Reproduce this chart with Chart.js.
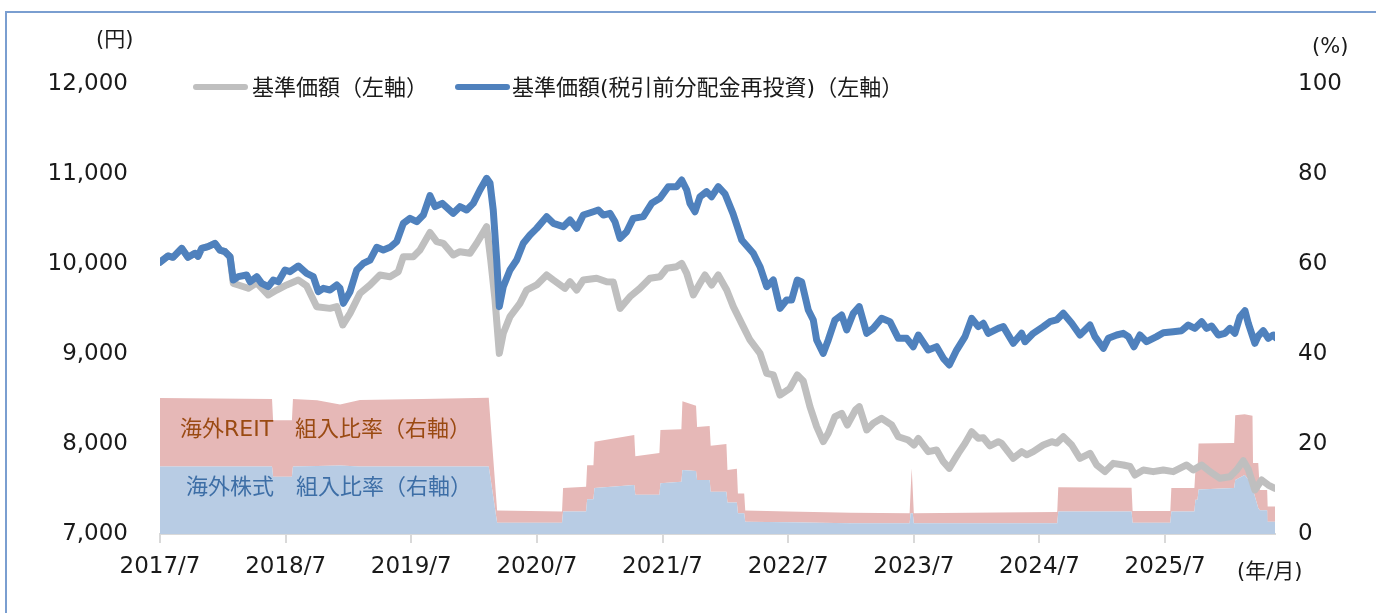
<!DOCTYPE html>
<html>
<head>
<meta charset="utf-8">
<script src="https://cdn.jsdelivr.net/npm/chart.js@4.4.1/dist/chart.umd.min.js"></script>
<style>
  html, body { margin:0; padding:0; background:#fff; }
  body { width:1376px; height:613px; overflow:hidden; position:relative;
         font-family:"DejaVu Sans","Noto Sans CJK JP",sans-serif; }
  #frame { position:absolute; left:5px; top:11px; width:1420px; height:700px;
           border-left:2px solid #7a9ed0; border-top:2px solid #7a9ed0; }
  canvas { position:absolute; left:0; top:0; }
  .t { position:absolute; white-space:nowrap; line-height:1; transform:translateY(-50%); color:#1a1a1a; }
  .sw { position:absolute; height:6px; border-radius:3px; transform:translateY(-50%); }
</style>
</head>
<body>
<div id="frame"></div>
<canvas id="c" width="1376" height="613"></canvas>

<div class="t" style="left:96px; top:39px; font-size:21px;">(円)</div>
<div class="t" style="left:1312px; top:46px; font-size:21px;">(%)</div>
<div class="t" style="left:1237px; top:571px; font-size:21px;">(年/月)</div>

<div class="sw" style="left:193px; top:87px; width:55px; background:#bfbfbf;"></div>
<div class="t" style="left:252px; top:88px; font-size:22px;">基準価額（左軸）</div>
<div class="sw" style="left:455px; top:87px; width:55px; background:#4f81bd;"></div>
<div class="t" style="left:512px; top:88px; font-size:22px;">基準価額(税引前分配金再投資)（左軸）</div>

<div class="t" style="left:180px; top:429px; font-size:22px; color:#9a4a12;">海外REIT　組入比率（右軸）</div>
<div class="t" style="left:186px; top:487px; font-size:22px; color:#3d6ea6;">海外株式　組入比率（右軸）</div>

<script>
// x positions are months since 2017/7
const tickMonths = [0, 12, 24, 36, 48, 60, 72, 84, 96];
const tickLabels = ['2017/7','2018/7','2019/7','2020/7','2021/7','2022/7','2023/7','2024/7','2025/7'];

// 基準価額(税引前分配金再投資)（円）
const reinvT = [0,0.76,1.24,2.07,2.67,3.34,3.63,3.98,4.58,5.25,5.73,6.21,6.69,7.00,7.48,8.28,8.60,9.24,9.71,10.34,10.82,11.30,11.94,12.42,13.21,14.01,14.64,15.12,15.60,16.24,16.88,17.19,17.51,18.15,18.79,19.42,20.06,20.70,21.33,21.97,22.61,23.24,23.88,24.52,25.15,25.79,26.27,26.96,28.01,28.65,29.29,29.92,30.56,31.20,31.52,31.83,32.16,32.41,32.79,33.43,34.07,34.70,35.34,35.98,36.93,37.57,38.52,39.16,39.80,40.43,41.39,41.86,42.34,42.98,43.46,43.94,44.57,45.20,46.16,46.96,47.75,48.55,49.35,49.83,50.31,50.62,51.10,51.58,52.21,52.69,53.32,53.96,54.73,55.56,56.67,57.31,57.95,58.58,59.22,59.85,60.33,60.87,61.29,61.92,62.40,62.72,63.35,63.83,64.47,65.11,65.59,66.22,66.79,67.50,68.13,68.93,69.72,70.52,71.32,71.95,72.43,73.38,74.18,74.82,75.39,76.09,76.89,77.53,78.16,78.64,79.11,80.07,80.55,81.50,82.30,82.62,83.41,84.37,85.00,85.64,86.28,87.08,87.87,88.83,89.30,90.10,90.58,91.38,92.01,92.49,93.03,93.60,94.24,95.19,95.83,96.78,97.58,98.22,98.85,99.49,99.97,100.45,101.08,101.72,102.20,102.67,103.15,103.63,103.95,104.58,104.90,105.38,105.86,106.34,106.59];
const reinv = [10020,10089,10074,10174,10074,10119,10085,10174,10193,10230,10155,10137,10081,9822,9859,9878,9803,9859,9785,9748,9822,9803,9933,9915,9978,9896,9859,9692,9730,9711,9767,9730,9563,9692,9933,10007,10044,10185,10155,10185,10248,10452,10507,10470,10544,10760,10637,10674,10563,10637,10600,10674,10822,10952,10900,10600,10044,9526,9748,9933,10044,10230,10322,10396,10526,10452,10415,10489,10396,10544,10581,10600,10544,10563,10470,10285,10359,10507,10526,10674,10730,10859,10859,10933,10822,10674,10581,10748,10804,10748,10859,10780,10560,10267,10119,9970,9748,9822,9507,9600,9600,9822,9800,9489,9378,9156,9007,9156,9378,9433,9267,9452,9526,9230,9285,9396,9359,9174,9174,9081,9211,9044,9081,8952,8878,9044,9193,9396,9304,9341,9230,9285,9304,9119,9230,9137,9230,9304,9359,9378,9452,9341,9211,9322,9193,9063,9174,9211,9230,9193,9081,9211,9137,9193,9237,9248,9259,9322,9285,9359,9285,9311,9211,9230,9285,9230,9415,9481,9341,9119,9200,9259,9174,9211,9180];

// 基準価額（円）
const navT = [0,0.76,1.24,2.07,2.67,3.34,3.63,3.98,4.58,5.25,5.73,6.21,6.69,7.00,7.48,8.43,9.24,10.34,11.15,12.10,13.21,14.01,14.97,16.24,16.88,17.45,18.15,19.10,20.06,21.01,21.97,22.76,23.24,24.19,24.83,25.79,26.43,27.06,28.01,28.65,29.61,30.25,31.20,31.59,32.00,32.41,32.79,33.43,34.38,35.02,35.98,36.93,37.57,38.68,39.16,39.80,40.43,41.71,42.66,43.30,43.94,44.89,45.85,46.80,47.75,48.40,49.35,49.83,50.31,50.94,51.58,52.05,52.69,53.32,54.13,54.76,55.71,56.35,57.31,57.95,58.58,59.22,60.17,60.87,61.44,62.08,62.72,63.35,63.83,64.47,65.11,65.65,66.43,66.79,67.50,68.13,68.93,69.89,70.52,71.47,72.02,72.43,73.38,74.18,74.82,75.39,76.25,76.89,77.53,78.16,78.64,79.27,80.07,80.39,81.50,82.30,82.78,83.41,84.37,85.17,85.64,86.28,87.08,87.87,88.83,89.47,90.26,91.05,92.01,92.65,93.12,93.92,94.87,95.83,96.78,98.06,98.69,99.49,100.29,101.24,102.20,102.84,103.47,103.95,104.58,105.22,105.86,106.49];
const nav = [10020,10089,10074,10174,10074,10119,10085,10174,10193,10230,10155,10137,10081,9785,9767,9730,9790,9656,9711,9767,9822,9756,9526,9507,9526,9322,9452,9674,9767,9878,9859,9915,10081,10081,10155,10350,10248,10230,10100,10137,10119,10230,10415,10044,9600,9007,9230,9415,9563,9711,9767,9878,9822,9730,9803,9711,9822,9841,9803,9800,9507,9637,9730,9841,9859,9952,9970,10007,9896,9656,9785,9878,9767,9878,9711,9526,9304,9156,9007,8785,8767,8544,8619,8767,8700,8415,8193,8026,8119,8304,8341,8211,8378,8415,8156,8230,8285,8211,8081,8044,7989,8063,7915,7933,7804,7730,7896,8007,8137,8063,8070,7980,8026,8007,7841,7915,7880,7915,7989,8026,8010,8081,7989,7841,7896,7767,7693,7785,7767,7750,7656,7711,7693,7711,7693,7767,7711,7767,7693,7619,7637,7711,7815,7720,7489,7600,7544,7507];

// 組入比率（%）
const allocT = [0,10.7,10.8,12.6,12.7,15.0,17.2,19.1,25,31.4,32.2,38.4,38.5,40.7,40.8,41.4,41.5,45.3,45.4,47.7,47.8,49.8,49.9,51.2,51.3,52.5,52.6,54.1,54.2,55.1,55.2,55.8,55.9,60,66,71.6,71.7,71.8,71.9,72.0,80,85.7,85.8,92.8,92.9,96.5,96.6,98.8,98.9,99.1,99.2,102.6,102.7,103.6,104.35,104.4,104.9,105.05,105.75,105.8,106.5];
const stockPct = [15.0,15.0,12.7,12.7,15.0,15.1,15.2,15.0,15.0,15.0,2.5,2.5,5.0,5.0,7.7,7.7,10.2,10.9,8.7,8.7,11.3,11.6,14.2,14.0,12.0,12.0,9.4,9.4,7.0,7.0,4.6,4.6,2.7,2.6,2.4,2.4,4.6,4.6,4.6,2.4,2.4,2.4,5.0,5.0,2.5,2.5,5.0,5.0,7.6,7.6,9.9,10.2,12.0,13.1,11.0,9.8,5.8,5.3,5.3,2.7,2.7];
const reitPct = [15.2,15.0,12.6,12.6,15.0,14.6,13.6,14.8,15.0,15.3,2.7,2.5,5.2,5.5,7.6,7.6,10.3,11.1,8.6,9.3,11.8,11.7,15.3,14.5,11.8,12.0,10.2,10.6,7.2,7.5,4.4,4.4,2.5,2.4,2.3,2.2,5.2,10.0,5.2,2.2,2.4,2.5,5.4,5.3,2.6,2.6,5.2,5.2,6.6,6.6,10.2,10.0,14.4,13.5,15.3,6.0,10.0,4.5,4.5,3.4,3.4];

const pts = (xs, ys) => xs.map((x, i) => ({ x, y: ys[i] }));
const stockPts = pts(allocT, stockPct);
const reitTopPts = allocT.map((x, i) => ({ x, y: stockPct[i] + reitPct[i] }));

const FONT = '"DejaVu Sans","Noto Sans CJK JP",sans-serif';

new Chart(document.getElementById('c'), {
  type: 'line',
  data: {
    datasets: [
      { label: '基準価額(税引前分配金再投資)（左軸）', data: pts(reinvT, reinv), yAxisID: 'y',
        borderColor: '#4f81bd', borderWidth: 7, pointRadius: 0, fill: false, tension: 0,
        borderJoinStyle: 'round', borderCapStyle: 'round', order: 0 },
      { label: '基準価額（左軸）', data: pts(navT, nav), yAxisID: 'y',
        borderColor: '#bfbfbf', borderWidth: 7, pointRadius: 0, fill: false, tension: 0,
        borderJoinStyle: 'round', borderCapStyle: 'round', order: 1 },
      { label: '海外株式　組入比率（右軸）', data: stockPts, yAxisID: 'y1',
        borderWidth: 0, borderColor: 'rgba(0,0,0,0)', backgroundColor: '#b8cce4',
        pointRadius: 0, fill: 'origin', tension: 0, order: 2 },
      { label: '海外REIT　組入比率（右軸）', data: reitTopPts, yAxisID: 'y1',
        borderWidth: 0, borderColor: 'rgba(0,0,0,0)', backgroundColor: '#e6b8b7',
        pointRadius: 0, fill: 2, tension: 0, order: 3 }
    ]
  },
  options: {
    responsive: false,
    devicePixelRatio: 1,
    animation: false,
    layout: { padding: { top: 84, bottom: 0, left: 0, right: 0 } },
    plugins: { legend: { display: false }, tooltip: { enabled: false } },
    scales: {
      x: {
        type: 'linear', min: 0, max: 106.5,
        afterBuildTicks: (s) => { s.ticks = tickMonths.map(v => ({ value: v })); },
        afterFit: (s) => { s.height = 79; },
        ticks: {
          callback: (v) => { const i = tickMonths.indexOf(v); return i >= 0 ? tickLabels[i] : ''; },
          font: { family: FONT, size: 23 }, color: '#1a1a1a', padding: 10, maxRotation: 0, autoSkip: false
        },
        grid: { display: true, drawOnChartArea: false, drawTicks: true, tickLength: 9, color: '#d9d9d9', lineWidth: 2 },
        border: { display: true, color: '#d9d9d9', width: 2 }
      },
      y: {
        position: 'left', min: 7000, max: 12000,
        afterBuildTicks: (s) => { s.ticks = [7000,8000,9000,10000,11000,12000].map(v => ({ value: v })); },
        afterFit: (s) => { s.width = 160; },
        ticks: {
          callback: (v) => v.toLocaleString('en-US'),
          font: { family: FONT, size: 23 }, color: '#1a1a1a', padding: 32
        },
        grid: { display: false, drawTicks: false },
        border: { display: false }
      },
      y1: {
        position: 'right', min: 0, max: 100,
        afterBuildTicks: (s) => { s.ticks = [0,20,40,60,80,100].map(v => ({ value: v })); },
        afterFit: (s) => { s.width = 101; },
        ticks: { font: { family: FONT, size: 23 }, color: '#1a1a1a', padding: 23 },
        grid: { display: false, drawTicks: false },
        border: { display: false }
      }
    }
  }
});
</script>
</body>
</html>
